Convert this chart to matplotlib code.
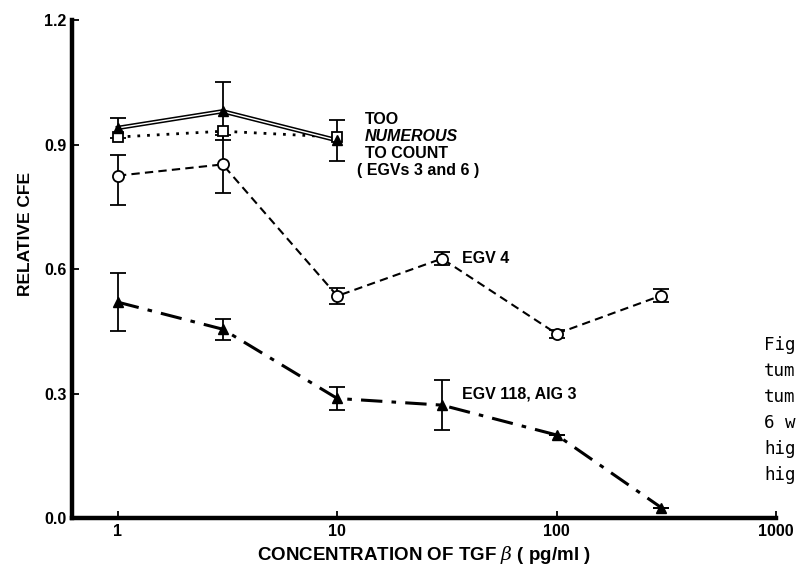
import matplotlib
matplotlib.use('Agg')
from matplotlib import pyplot as plt

# Data
conc = [1, 3, 10, 30, 100, 300]
conc_tntc = [1, 3, 10]

# EGVs 3 and 6 (too numerous to count)
tntc_tri = [0.94, 0.98, 0.91]
tntc_tri_err = [0.025, 0.07, 0.05]
tntc_sq = [0.918, 0.932, 0.918]

# EGV 4
egv4 = [0.825, 0.852, 0.535, 0.625, 0.444, 0.536]
egv4_err_lo = [0.07, 0.07, 0.02, 0.015, 0.01, 0.015]
egv4_err_hi = [0.05, 0.07, 0.02, 0.015, 0.01, 0.015]

# EGV 118, AIG 3
egv118 = [0.52, 0.455, 0.288, 0.272, 0.20, 0.025]
egv118_err = [0.07, 0.025, 0.028, 0.06, 0.0, 0.0]

yticks = [0.0, 0.3, 0.6, 0.9, 1.2]
xticks = [1, 10, 100, 1000]
caption = ['Fig', 'tum', 'tum', '6 w', 'hig', 'hig']

plt.rcParams['font.family'] = ['Liberation Sans', 'DejaVu Sans']
plt.rcParams['mathtext.fontset'] = 'dejavuserif'

fig = plt.figure(figsize=(7.97, 5.8), dpi=100)
ax = fig.add_axes([0.0903, 0.1069, 0.8833, 0.8586])

ebkw = dict(ecolor='black', elinewidth=1.3, capsize=5.5, capthick=1.3, zorder=4)

# dash-dot, filled triangles
ax.errorbar(conc, egv118, yerr=egv118_err, fmt='none', **ebkw)
ax.plot(conc, egv118, color='black', lw=2.2, dashes=(7, 3, 1.5, 3), zorder=3)
ax.plot(conc, egv118, 'k^', ms=7, zorder=5)

# dashed, open circles
ax.errorbar(conc, egv4, yerr=[egv4_err_lo, egv4_err_hi], fmt='none', **ebkw)
ax.plot(conc, egv4, color='black', lw=1.5, dashes=(4, 2.5), zorder=3)
ax.plot(conc, egv4, 'o', ms=8, mfc='white', mec='black', mew=1.3, zorder=5)

# dotted, open squares
ax.plot(conc_tntc, tntc_sq, color='black', lw=2.0, ls=(0, (1, 2.5)), zorder=3)
ax.plot(conc_tntc, tntc_sq, 's', ms=7, mfc='white', mec='black', mew=1.3, zorder=5)

# double solid line, filled triangles
ax.errorbar(conc_tntc, tntc_tri, yerr=tntc_tri_err, fmt='none', **ebkw)
ax.plot(conc_tntc, tntc_tri, color='black', lw=3.2, zorder=3)
ax.plot(conc_tntc, tntc_tri, color='white', lw=1.0, zorder=3)
ax.plot(conc_tntc, tntc_tri, 'k^', ms=7, zorder=5)

ax.set_xscale('log')
ax.set_xlim(0.617, 1000)
ax.set_ylim(0, 1.2)
ax.set_xticks(xticks)
ax.set_xticklabels([str(t) for t in xticks])
ax.minorticks_off()
ax.set_yticks(yticks)
ax.set_yticklabels([f'{t:.1f}' for t in yticks])
ax.tick_params(axis='both', direction='in', length=5, width=1.3,
               labelsize=11.5, pad=4)
for lab in ax.get_xticklabels() + ax.get_yticklabels():
    lab.set_fontweight('bold')

for side in ['top', 'right']:
    ax.spines[side].set_visible(False)
for side in ['left', 'bottom']:
    ax.spines[side].set_linewidth(3.2)

ax.set_xlabel(r'CONCENTRATION OF TGF $\beta$ ( pg/ml )', fontsize=13.5,
              fontweight='bold', labelpad=4)
ax.set_ylabel('RELATIVE CFE', fontsize=12.5, fontweight='bold')
ax.yaxis.set_label_coords(-0.055, 0.57)

# annotations
fs = 11.5
ax.text(13.4, 0.978, 'TOO', fontsize=fs, fontweight='bold', va='top')
ax.text(13.4, 0.937, 'NUMEROUS', fontsize=fs, fontweight='bold',
        style='italic', va='top')
ax.text(13.4, 0.897, 'TO COUNT', fontsize=fs, fontweight='bold', va='top')
ax.text(12.3, 0.855, '( EGVs 3 and 6 )', fontsize=fs, fontweight='bold', va='top')
ax.text(37, 0.625, 'EGV 4', fontsize=fs, fontweight='bold', va='center')
ax.text(37, 0.30, 'EGV 118, AIG 3', fontsize=fs, fontweight='bold', va='center')

# caption fragments at the right page edge
for i, line in enumerate(caption):
    fig.text(764 / 797, 1 - (345 + 26 * i) / 580, line, fontsize=12.6,
             family='DejaVu Sans Mono', va='center', ha='left')

fig.savefig('out.png', dpi=100)
